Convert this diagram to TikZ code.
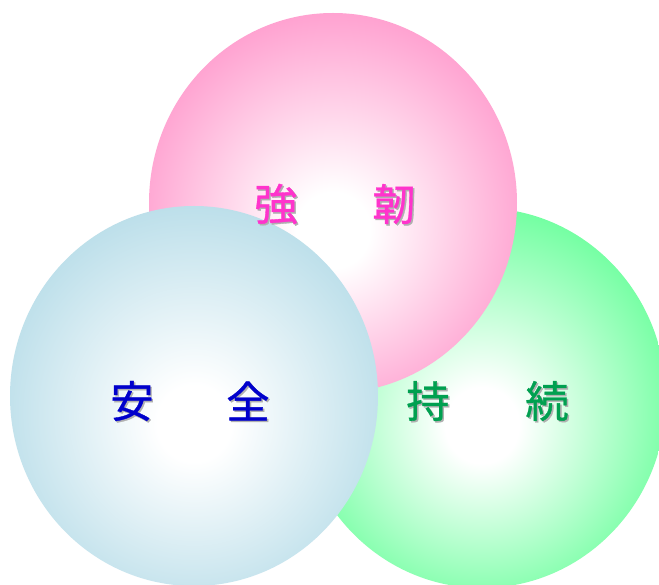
\documentclass[tikz,border=0pt]{standalone}
\usepackage{fontspec}
\newfontfamily\cjk[FakeBold=0.8]{Noto Sans CJK JP}
\definecolor{pinkedge}{HTML}{FF99CC}
\definecolor{blueedge}{HTML}{B6DCE8}
\definecolor{greenedge}{HTML}{66FF99}
\definecolor{txtpink}{HTML}{FF33CC}
\definecolor{txtblue}{HTML}{0000CC}
\definecolor{txtgreen}{HTML}{00A050}
\definecolor{shadowgray}{HTML}{B0B0B0}
\pgfdeclareradialshading{pinkball}{\pgfpoint{0bp}{-4bp}}{color(0bp)=(white); color(5bp)=(white); color(29bp)=(pinkedge); color(50bp)=(pinkedge)}
\pgfdeclareradialshading{blueball}{\pgfpoint{0bp}{-4bp}}{color(0bp)=(white); color(5bp)=(white); color(29bp)=(blueedge); color(50bp)=(blueedge)}
\pgfdeclareradialshading{greenball}{\pgfpoint{0bp}{-4bp}}{color(0bp)=(white); color(5bp)=(white); color(29bp)=(greenedge); color(50bp)=(greenedge)}
\tikzset{
  lbl/.style={font=\cjk\fontsize{37}{37}\selectfont, inner sep=0pt},
  shadowtxt/.style={lbl, text=shadowgray},
}
\begin{document}
\begin{tikzpicture}[x=0.03cm,y=0.03cm]
\useasboundingbox (0,0) rectangle (659,585);
\clip (0,0) rectangle (659,585);
\fill[white] (0,0) rectangle (659,585);
% balls
\shade[shading=greenball] (482,187) ellipse [x radius=184, y radius=190];
\shade[shading=pinkball] (333,382) ellipse [x radius=184, y radius=190];
\shade[shading=blueball] (194,189) ellipse [x radius=184, y radius=190];
% shadows
\node[shadowtxt] (s1) at (277.5,379.5) {強};
\node[shadowtxt] (s2) at (395.5,379.5) {韌};
\node[shadowtxt] (s3) at (133.5,182.5) {安};
\node[shadowtxt] (s4) at (249.5,182.5) {全};
\node[shadowtxt] (s5) at (429.5,182.5) {持};
\node[shadowtxt] (s6) at (548.5,182.5) {続};
% labels
\node[lbl, text=txtpink] (t1) at (276,381) {強};
\node[lbl, text=txtpink] (t2) at (394,381) {韌};
\node[lbl, text=txtblue] (t3) at (132,184) {安};
\node[lbl, text=txtblue] (t4) at (248,184) {全};
\node[lbl, text=txtgreen] (t5) at (428,184) {持};
\node[lbl, text=txtgreen] (t6) at (547,184) {続};
\end{tikzpicture}
\end{document}
